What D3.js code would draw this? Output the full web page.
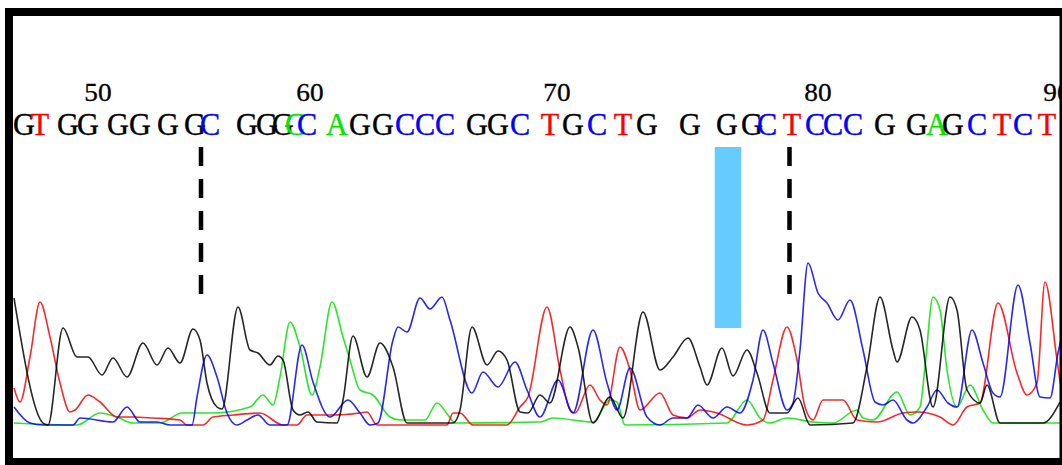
<!DOCTYPE html>
<html><head><meta charset="utf-8">
<script src="https://cdn.jsdelivr.net/npm/d3@7"></script>
<style>html,body{margin:0;padding:0;background:#fff;}svg{display:block;}</style>
</head><body>
<svg id="chart" width="1062" height="465"></svg>
<script>
// ---- data (scan position, intensity) ----
const traceG = [[0,1270],[29,20],[34,0],[49,970],[63,680],[74,680],[88,500],[99,670],[113,480],[129,820],[143,600],[154,770],[166,620],[179,960],[186,850],[193,420],[203,180],[208,160],[224,1180],[236,750],[244,720],[256,600],[264,690],[269,650],[279,150],[286,100],[294,130],[303,30],[323,20],[329,250],[339,890],[353,480],[366,820],[379,580],[393,20],[439,20],[446,150],[458,980],[473,600],[484,740],[493,650],[506,130],[514,120],[526,300],[536,220],[556,980],[564,780],[579,20],[596,280],[609,70],[629,1130],[646,550],[659,680],[674,870],[686,580],[693,400],[708,770],[719,490],[733,750],[743,520],[756,120],[773,120],[784,270],[796,0],[839,20],[853,580],[866,1280],[879,750],[883,630],[898,1080],[906,950],[919,180],[936,1280],[943,1150],[953,350],[966,220],[973,400],[986,20],[1029,20],[1046,230]];
const traceT = [[0,370],[6,230],[16,680],[26,1230],[36,880],[46,420],[56,130],[61,150],[74,300],[86,230],[103,80],[119,80],[139,70],[166,50],[173,0],[189,0],[199,80],[219,100],[246,120],[269,0],[283,0],[293,100],[319,100],[346,120],[353,130],[363,0],[433,0],[439,120],[446,120],[459,0],[493,0],[506,180],[514,280],[533,1180],[546,550],[556,150],[561,120],[576,400],[586,250],[593,200],[606,780],[616,550],[626,150],[646,320],[659,100],[673,70],[686,150],[703,120],[733,0],[749,50],[759,450],[773,980],[783,650],[791,180],[799,50],[809,250],[829,250],[843,50],[863,30],[889,120],[903,130],[926,80],[939,0],[953,180],[966,220],[984,1220],[1003,520],[1013,300],[1023,420],[1031,1430],[1043,650],[1048,300]];
const traceC = [[0,180],[16,20],[29,0],[59,0],[66,70],[99,30],[113,180],[126,30],[143,30],[156,0],[178,0],[183,280],[193,700],[203,480],[213,120],[223,0],[233,50],[244,100],[256,0],[273,0],[288,800],[299,430],[316,80],[334,250],[346,120],[356,0],[364,20],[379,850],[384,980],[393,930],[406,1270],[416,1160],[428,1280],[436,1050],[458,320],[469,530],[484,380],[501,630],[513,350],[526,80],[544,450],[559,120],[579,950],[593,420],[603,150],[616,570],[633,80],[646,0],[659,70],[673,70],[684,200],[699,70],[713,180],[726,120],[739,450],[749,950],[759,620],[773,150],[779,220],[786,750],[794,1620],[804,1320],[813,1220],[824,1050],[836,1250],[849,750],[861,230],[869,200],[879,250],[893,50],[899,20],[913,180],[923,350],[934,220],[943,180],[958,950],[969,620],[979,320],[986,280],[1004,1400],[1016,820],[1026,280],[1036,270],[1044,720],[1048,900]];
const traceA = [[0,20],[63,0],[86,120],[103,80],[119,20],[146,20],[168,120],[199,120],[236,180],[249,300],[259,200],[266,480],[276,1030],[286,780],[298,300],[306,580],[318,1230],[329,880],[336,650],[346,350],[359,300],[376,80],[386,50],[411,50],[423,220],[434,100],[441,20],[526,30],[539,70],[579,30],[596,250],[603,230],[611,0],[713,20],[733,250],[746,70],[756,20],[773,70],[799,30],[819,20],[843,150],[849,70],[859,50],[883,330],[896,100],[906,180],[911,580],[919,1280],[926,1150],[933,550],[943,180],[956,400],[969,150],[979,20],[1048,20]];

const baseCalls = ["G","T","G","G","G","G","G","G","C","G","G","G","C","C","A","G","G","C","C","C","G","G","C","T","G","C","T","G","G","G","G","C","T","C","C","C","G","G","A","G","C","T","C","T"];
const baseScans = [10,26,54,74,104,126,154,181,196,233,253,269,281,293,323,346,369,391,411,431,463,484,506,536,559,583,609,633,676,713,738,753,778,801,819,839,871,903,923,939,963,988,1009,1033];
const baseColorKey = ["G","T","G","G","G","G","G","G","C","G","G","G","A","C","A","G","G","C","C","C","G","G","C","T","G","C","T","G","G","G","G","C","T","C","C","C","G","G","A","G","C","T","C","T"];

const tickLabels = ["50","60","70","80","90"];
const tickScans = [84,296,543,804,1043];

const dashedMarks = [187,775.5];
const highlightSpan = [700.7,727.3];

// ---- layout ----
const svg = d3.select("#chart");
const x = d3.scaleLinear().domain([0,1045]).range([14,1059]);
const y = d3.scaleLinear().domain([0,2000]).range([425,225]);
const colors = {A:"#00e600", C:"#0000ff", G:"#000000", T:"#ff0000"};

svg.append("defs").append("clipPath").attr("id","inner")
  .append("rect").attr("x",13).attr("y",16).attr("width",1047).attr("height",442);

const g = svg.append("g").attr("clip-path","url(#inner)");

// highlight
g.append("rect")
  .attr("x", x(highlightSpan[0])).attr("width", x(highlightSpan[1]) - x(highlightSpan[0]))
  .attr("y", 147).attr("height", 181)
  .attr("fill", "#66ccff");

// dashed markers
g.selectAll("line.mark").data(dashedMarks).join("line")
  .attr("class","mark")
  .attr("x1", d => x(d)).attr("x2", d => x(d))
  .attr("y1", 147).attr("y2", 297)
  .attr("stroke","#000").attr("stroke-width",4.5)
  .attr("stroke-dasharray","19,13");

// traces
const line = d3.line().x(d => x(d[0])).y(d => y(d[1])).curve(d3.curveMonotoneX);
const traces = [["A",traceA],["T",traceT],["C",traceC],["G",traceG]];
g.selectAll("path.trace").data(traces).join("path")
  .attr("class","trace")
  .attr("d", d => line(d[1]))
  .attr("fill","none")
  .attr("stroke", d => colors[d[0]])
  .attr("stroke-opacity", 0.85)
  .attr("stroke-width", 1.6)
  .attr("stroke-linejoin","round");

// tick numbers
g.selectAll("text.tick").data(tickLabels).join("text")
  .attr("class","tick")
  .attr("transform", (d,i) => `translate(${x(tickScans[i])},101) scale(1.05,1)`)
  .attr("text-anchor","middle")
  .attr("font-family","'Liberation Serif', 'Times New Roman', serif")
  .attr("font-size", 26)
  .attr("fill","#000")
  .attr("stroke","#000").attr("stroke-width",0.3)
  .text(d => d);

// base calls
g.selectAll("text.base").data(baseCalls).join("text")
  .attr("class","base")
  .attr("transform", (d,i) => `translate(${x(baseScans[i])},135) scale(1.12,1.2)`)
  .attr("text-anchor","middle")
  .attr("font-family","'Liberation Serif', 'Times New Roman', serif")
  .attr("font-size", 27)
  .attr("fill", (d,i) => colors[baseColorKey[i]])
  .attr("stroke", (d,i) => colors[baseColorKey[i]])
  .attr("stroke-width", 0.35)
  .text(d => d);

// frame
svg.append("rect")
  .attr("x",9).attr("y",12).attr("width",1054.5).attr("height",450)
  .attr("fill","none").attr("stroke","#000").attr("stroke-width",8);
</script>
</body></html>
